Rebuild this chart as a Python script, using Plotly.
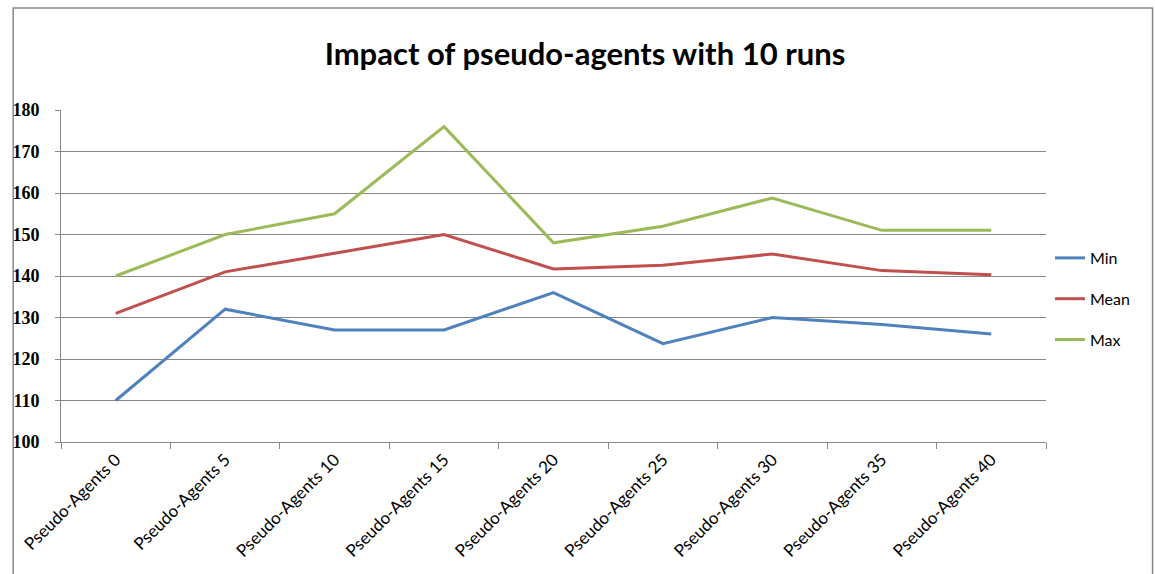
import plotly.graph_objects as go

categories = ["Pseudo-Agents 0", "Pseudo-Agents 5", "Pseudo-Agents 10", "Pseudo-Agents 15",
              "Pseudo-Agents 20", "Pseudo-Agents 25", "Pseudo-Agents 30", "Pseudo-Agents 35",
              "Pseudo-Agents 40"]
min_vals = [110, 132, 127, 127, 136, 123.7, 130, 128.3, 126]
mean_vals = [131, 141, 145.5, 150, 141.7, 142.6, 145.3, 141.3, 140.3]
max_vals = [140, 150, 155, 176, 148, 152, 158.8, 151, 151]
y_ticks = [100, 110, 120, 130, 140, 150, 160, 170, 180]

W, H = 1155, 574
L, R, T, B = 57, 1046, 110, 442

fig = go.Figure()
series = [("Min", min_vals, "#4F81BD"), ("Mean", mean_vals, "#C0504D"), ("Max", max_vals, "#9BBB59")]
for name, vals, col in series:
    fig.add_trace(go.Scatter(x=categories, y=vals, name=name, mode="lines",
                             line=dict(color=col, width=3), legendgroup=name))

def px_x(p):
    return (p - L) / (R - L)

def px_y(p):
    return (B - p) / (B - T)

fig.update_layout(
    width=W, height=H,
    margin=dict(l=L, r=W - R, t=T, b=H - B),
    paper_bgcolor="white", plot_bgcolor="white",
    title=dict(text="<b>Impact of pseudo-agents with 10 runs</b>", x=(322 + 848) / 2 / W, xanchor="center",
               y=1 - 54 / H, yanchor="middle",
               font=dict(family="Lato", size=31, color="black")),
    showlegend=True,
    legend=dict(x=px_x(1050), y=px_y(241), xanchor="left", yanchor="top",
                font=dict(family="Lato", size=16, color="black"),
                tracegroupgap=17, bgcolor="rgba(0,0,0,0)"),
    xaxis=dict(type="category", range=[-0.5, 8.5], showgrid=False, showline=True,
               linecolor="#868686", linewidth=1, ticks="outside", tickson="boundaries",
               ticklen=6, tickcolor="#868686", tickangle=-45,
               tickfont=dict(family="Lato", size=17, color="black")),
    yaxis=dict(range=[100, 180], tickvals=y_ticks, showgrid=True, gridcolor="#868686",
               gridwidth=1, showline=True, linecolor="#868686", linewidth=1,
               ticks="outside", ticklen=5, tickcolor="#868686", zeroline=False,
               ticklabelstandoff=12,
               tickfont=dict(family="Liberation Serif", size=18, color="black", weight="bold")),
    shapes=[dict(type="rect", xref="paper", yref="paper",
                 x0=px_x(9), x1=px_x(1153), y0=px_y(590), y1=px_y(8),
                 line=dict(color="#888888", width=1.5), fillcolor="rgba(0,0,0,0)", layer="below")],
)

fig.write_html("out.html")
